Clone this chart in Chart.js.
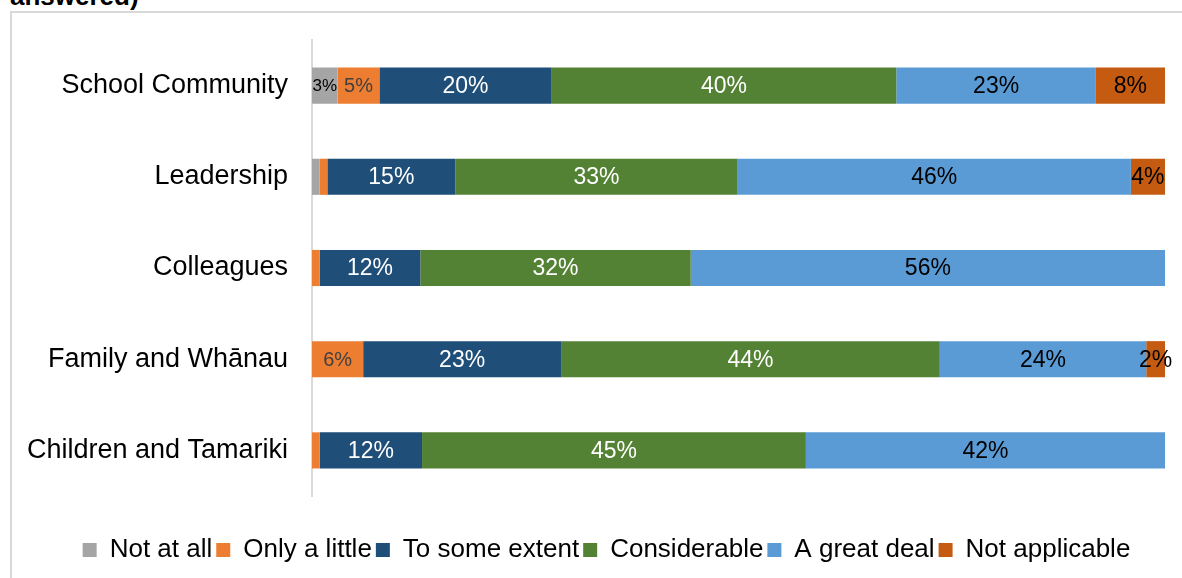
<!DOCTYPE html>
<html>
<head>
<meta charset="utf-8">
<script src="https://cdn.jsdelivr.net/npm/chart.js@4"></script>
<style>
  body { margin: 0; background: #fff; }
  #wrap { position: relative; width: 1182px; height: 578px; overflow: hidden; }
  #titulo { position: absolute; left: 10px; top: -19px; font: bold 26px "Liberation Sans", Arial, sans-serif; color: #000; }
  #moldura { position: absolute; left: 10px; top: 11px; width: 1200px; height: 600px; border: 2px solid #d9d9d9; }
  canvas { position: absolute; left: 0; top: 0; }
</style>
</head>
<body>
<div id="wrap">
  <div id="titulo">answered)</div>
  <div id="moldura"></div>
  <canvas id="grafico" width="1182" height="578"></canvas>
</div>
<script>
const categories = ['School Community', 'Leadership', 'Colleagues', 'Family and Whānau', 'Children and Tamariki'];
const seriesNames = ['Not at all', 'Only a little', 'To some extent', 'Considerable', 'A great deal', 'Not applicable'];
const notAtAll      = [3.0, 0.9, 0,    0,    0];
const onlyALittle   = [4.9, 0.9, 0.9,  6.0,  0.9];
const toSomeExtent  = [20.2, 15.0, 11.8, 23.2, 12.0];
const considerable  = [40.4, 33.1, 31.7, 44.4, 45.0];
const aGreatDeal    = [23.4, 46.1, 55.6, 24.2, 42.1];
const notApplicable = [8.1, 4.0, 0,    2.2,  0];

const cores = ['#a5a5a5', '#ed7d31', '#1f4e79', '#548235', '#5b9bd5', '#c55a11'];
const coresTexto = ['#000', '#404040', '#fff', '#fff', '#000', '#000'];
const tamanhos = [17, 20, 23, 23, 23, 23];
const fonte = '"Liberation Sans", Arial, sans-serif';

const valores = [notAtAll, onlyALittle, toSomeExtent, considerable, aGreatDeal, notApplicable];

// rótulos de percentagem no meio de cada segmento
const rotulos = {
    id: 'rotulos',
    afterDatasetsDraw(chart) {
        const ctx = chart.ctx;
        chart.data.datasets.forEach((ds, i) => {
            const meta = chart.getDatasetMeta(i);
            meta.data.forEach((bar, j) => {
                const v = ds.data[j];
                if (v < 1.5) return;
                ctx.save();
                ctx.font = tamanhos[i] + 'px ' + fonte;
                ctx.fillStyle = coresTexto[i];
                ctx.textAlign = 'center';
                ctx.textBaseline = 'middle';
                ctx.fillText(Math.round(v) + '%', (bar.x + bar.base) / 2, bar.y + 1);
                ctx.restore();
            });
        });
    }
};

// empurra a legenda um pouco para a direita, como no original
const moverLegenda = {
    id: 'moverLegenda',
    afterLayout(chart) {
        if (chart.legend) {
            chart.legend.left += 24;
            chart.legend.right += 24;
        }
    }
};

new Chart(document.getElementById('grafico'), {
    type: 'bar',
    data: {
        labels: categories,
        datasets: seriesNames.map((nome, i) => ({
            label: nome,
            data: valores[i],
            backgroundColor: cores[i],
            borderWidth: 0,
            barPercentage: 0.396,
            categoryPercentage: 1
        }))
    },
    options: {
        indexAxis: 'y',
        responsive: false,
        animation: false,
        layout: { padding: { left: 0, right: 17, top: 40, bottom: 5 } },
        scales: {
            x: {
                stacked: true,
                min: 0,
                max: 100,
                grid: { display: false },
                border: { display: false },
                ticks: { display: false },
                afterFit: function(scale) { scale.height = 37; }
            },
            y: {
                stacked: true,
                grid: { display: false },
                border: { color: '#d9d9d9', width: 2 },
                ticks: { color: '#000', font: { size: 27, family: fonte }, padding: 16 },
                afterFit: function(scale) { scale.width = 312; }
            }
        },
        plugins: {
            legend: {
                position: 'bottom',
                labels: {
                    color: '#000',
                    font: { size: 26, family: fonte },
                    boxWidth: 14,
                    boxHeight: 14,
                    padding: 4
                }
            },
            tooltip: { enabled: false }
        }
    },
    plugins: [rotulos, moverLegenda]
});
</script>
</body>
</html>
